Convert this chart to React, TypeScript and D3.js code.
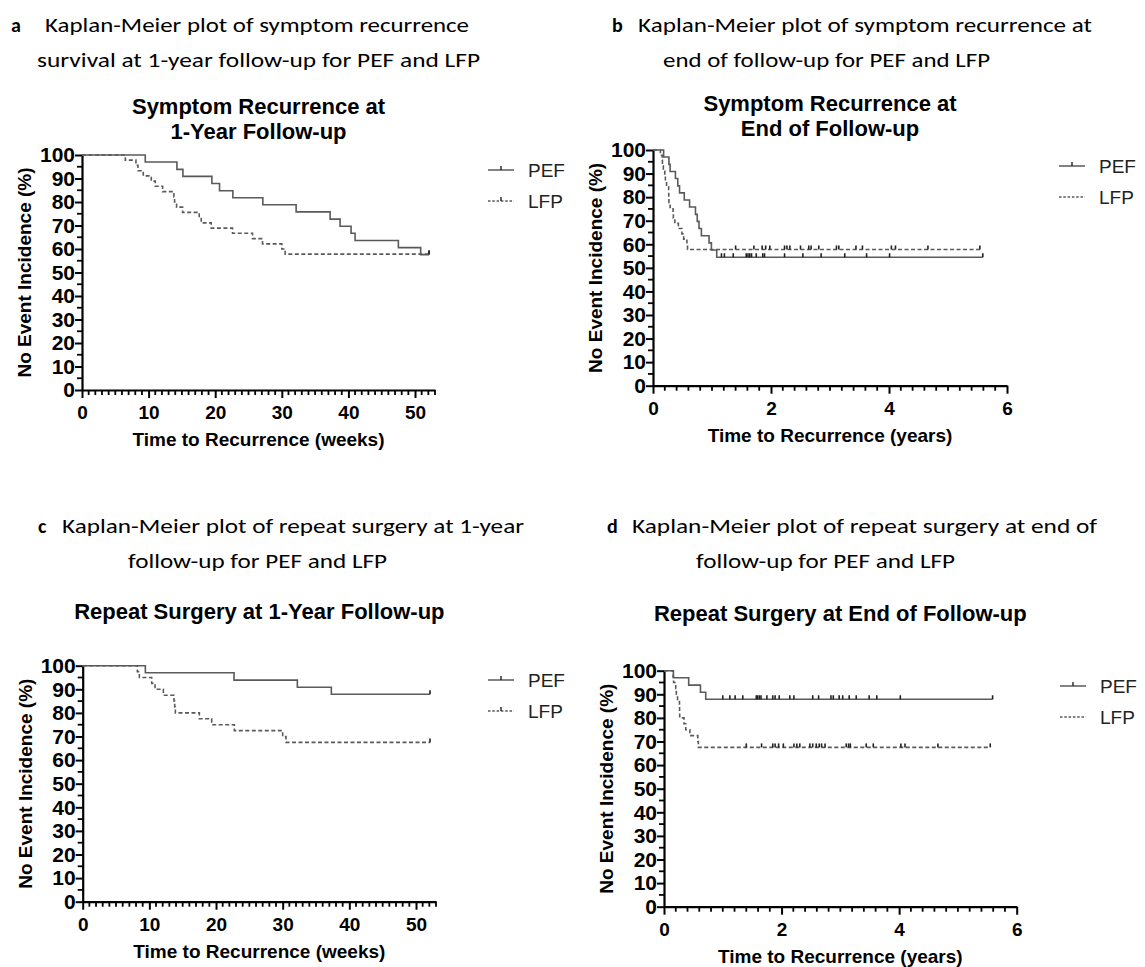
import { useEffect, useRef } from "react";
import * as d3 from "d3";

// ---- a: symptom recurrence, 1-year follow-up (weeks) ----
const symWeekPefTimes = [9.5, 14.25, 15.15, 19.5, 20.65, 22.65, 27.15, 32.15, 37.25, 38.75, 40.4, 41, 47.5, 50.85];
const symWeekPefValues = [97, 93.9, 90.9, 87.9, 84.8, 81.8, 78.8, 75.8, 72.7, 69.7, 66.7, 63.6, 60.6, 57.6];
const symWeekLfpTimes = [6.5, 8.1, 8.4, 9.2, 10.4, 11.0, 12.1, 13.8, 13.9, 14.2, 15.1, 17.6, 17.9, 19.4, 22.6, 25.6, 27.1, 30.0, 30.5];
const symWeekLfpValues = [97.8, 95.6, 93.3, 91.1, 88.9, 86.7, 84.4, 82.2, 80, 77.8, 75.6, 73.3, 71.1, 68.9, 66.7, 64.4, 62.2, 60, 57.8];
const symWeekPefCensor = [52.1];
const symWeekLfpCensor = [52.1];

// ---- b: symptom recurrence, end of follow-up (years) ----
const symYearPefTimes = [0.18, 0.27, 0.29, 0.38, 0.42, 0.45, 0.53, 0.62, 0.72, 0.75, 0.78, 0.82, 0.95, 0.99, 1.08];
const symYearPefValues = [97, 93.9, 90.9, 87.9, 84.8, 81.8, 78.8, 75.8, 72.7, 69.7, 66.7, 63.6, 60.6, 57.6, 54.5];
const symYearLfpTimes = [0.125, 0.155, 0.16, 0.175, 0.2, 0.21, 0.23, 0.265, 0.267, 0.27, 0.29, 0.34, 0.345, 0.37, 0.43, 0.49, 0.52, 0.575, 0.585];
const symYearLfpValues = [97.8, 95.6, 93.3, 91.1, 88.9, 86.7, 84.4, 82.2, 80, 77.8, 75.6, 73.3, 71.1, 68.9, 66.7, 64.4, 62.2, 60, 57.8];
const symYearPefCensor = [1.16, 1.21, 1.36, 1.58, 1.61, 1.64, 1.67, 1.75, 1.86, 1.89, 2.23, 2.54, 2.85, 3.25, 3.62, 4.01, 5.59];
const symYearLfpCensor = [1.4, 1.71, 1.85, 1.91, 1.98, 2.23, 2.27, 2.32, 2.5, 2.64, 2.68, 2.81, 3.11, 3.15, 3.44, 3.55, 4.04, 4.11, 4.66, 5.54];

// ---- c: repeat surgery, 1-year follow-up (weeks) ----
const surgWeekPefTimes = [9.4, 22.7, 32.2, 37.3];
const surgWeekPefValues = [97, 93.9, 90.9, 87.9];
const surgWeekLfpTimes = [8.2, 8.5, 10.35, 10.85, 12.1, 13.7, 13.8, 13.9, 17.5, 19.35, 22.75, 30.0, 30.5];
const surgWeekLfpValues = [97.5, 95, 92.5, 90, 87.5, 85, 82.5, 80, 77.5, 75, 72.5, 70, 67.5];
const surgWeekPefCensor = [52.1];
const surgWeekLfpCensor = [52.1];

// ---- d: repeat surgery, end of follow-up (years) ----
const surgYearPefTimes = [0.16, 0.42, 0.62, 0.71];
const surgYearPefValues = [97, 93.9, 90.9, 87.9];
const surgYearLfpTimes = [0.155, 0.163, 0.2, 0.21, 0.23, 0.263, 0.265, 0.267, 0.34, 0.37, 0.44, 0.575, 0.585];
const surgYearLfpValues = [97.5, 95, 92.5, 90, 87.5, 85, 82.5, 80, 77.5, 75, 72.5, 70, 67.5];
const surgYearPefCensor = [1.0, 1.12, 1.21, 1.34, 1.57, 1.59, 1.62, 1.65, 1.75, 1.85, 1.89, 1.96, 2.14, 2.21, 2.53, 2.63, 2.84, 2.88, 2.98, 3.04, 3.15, 3.27, 3.49, 3.62, 4.02, 5.59];
const surgYearLfpCensor = [1.4, 1.66, 1.85, 1.89, 1.95, 2.03, 2.21, 2.26, 2.31, 2.48, 2.53, 2.59, 2.64, 2.68, 2.74, 3.1, 3.14, 3.17, 3.44, 3.56, 4.03, 4.1, 4.66, 5.55];

const yTicks = [0, 10, 20, 30, 40, 50, 60, 70, 80, 90, 100];
const weekTicks = [0, 10, 20, 30, 40, 50];
const yearTicks = [0, 2, 4, 6];
const groupNames = ["PEF", "LFP"];

const GREY = "#5a5a5a";
const AXIS_FONT = "'Liberation Sans', Arial, sans-serif";
const CAPTION_FONT = "Carlito, Calibri, Lato, sans-serif";

type Panel = {
  letter: string;
  letterX: number;
  caption: string[];
  captionBox: [number, number][];
  captionY: number;
  title: string[];
  titleY: number[];
  xLabel: string;
  xMax: number;
  xTicks: number[];
  minorStep: number;
  left: number;
  right: number;
  top: number;
  bottom: number;
  legendX: number;
  legendY: number;
  lfpLegendTick: boolean;
  pef: [number[], number[], number[]];
  lfp: [number[], number[], number[]];
};

const panels: Panel[] = [
  {
    letter: "a",
    letterX: 11,
    caption: ["Kaplan-Meier plot of symptom recurrence", "survival at 1-year follow-up for PEF and LFP"],
    captionBox: [[45, 424], [37, 443]],
    captionY: 32,
    title: ["Symptom Recurrence at", "1-Year Follow-up"],
    titleY: [114, 139],
    xLabel: "Time to Recurrence (weeks)",
    xMax: 53,
    xTicks: weekTicks,
    minorStep: 1,
    left: 82,
    right: 435,
    top: 155,
    bottom: 390,
    legendX: 488,
    legendY: 170,
    lfpLegendTick: true,
    pef: [symWeekPefTimes, symWeekPefValues, symWeekPefCensor],
    lfp: [symWeekLfpTimes, symWeekLfpValues, symWeekLfpCensor],
  },
  {
    letter: "b",
    letterX: 612,
    caption: ["Kaplan-Meier plot of symptom recurrence at", "end of follow-up for PEF and LFP"],
    captionBox: [[638, 454], [663, 327]],
    captionY: 32,
    title: ["Symptom Recurrence at", "End of Follow-up"],
    titleY: [111, 136],
    xLabel: "Time to Recurrence (years)",
    xMax: 6,
    xTicks: yearTicks,
    minorStep: 0.2,
    left: 653,
    right: 1007,
    top: 150,
    bottom: 385.7,
    legendX: 1059,
    legendY: 166,
    lfpLegendTick: false,
    pef: [symYearPefTimes, symYearPefValues, symYearPefCensor],
    lfp: [symYearLfpTimes, symYearLfpValues, symYearLfpCensor],
  },
  {
    letter: "c",
    letterX: 38,
    caption: ["Kaplan-Meier plot of repeat surgery at 1-year", "follow-up for PEF and LFP"],
    captionBox: [[62, 462], [128, 259]],
    captionY: 533,
    title: ["Repeat Surgery at 1-Year Follow-up"],
    titleY: [619],
    xLabel: "Time to Recurrence (weeks)",
    xMax: 53,
    xTicks: weekTicks,
    minorStep: 1,
    left: 82.7,
    right: 436,
    top: 665.7,
    bottom: 901.7,
    legendX: 488,
    legendY: 680,
    lfpLegendTick: true,
    pef: [surgWeekPefTimes, surgWeekPefValues, surgWeekPefCensor],
    lfp: [surgWeekLfpTimes, surgWeekLfpValues, surgWeekLfpCensor],
  },
  {
    letter: "d",
    letterX: 607,
    caption: ["Kaplan-Meier plot of repeat surgery at end of", "follow-up for PEF and LFP"],
    captionBox: [[632, 465], [696, 259]],
    captionY: 533,
    title: ["Repeat Surgery at End of Follow-up"],
    titleY: [621],
    xLabel: "Time to Recurrence (years)",
    xMax: 6,
    xTicks: yearTicks,
    minorStep: 0.2,
    left: 664,
    right: 1016.7,
    top: 670.7,
    bottom: 906.7,
    legendX: 1060,
    legendY: 686,
    lfpLegendTick: false,
    pef: [surgYearPefTimes, surgYearPefValues, surgYearPefCensor],
    lfp: [surgYearLfpTimes, surgYearLfpValues, surgYearLfpCensor],
  },
];

export default function App() {
  const ref = useRef<SVGSVGElement>(null);

  useEffect(() => {
    const svg = d3.select(ref.current);
    svg.selectAll("*").remove();

    panels.forEach((p) => {
      const g = svg.append("g");
      const x = d3.scaleLinear().domain([0, p.xMax]).range([p.left, p.right]);
      const y = d3.scaleLinear().domain([0, 100]).range([p.bottom, p.top]);

      // caption (letter in bold, lines stretched to the measured width)
      g.append("text")
        .attr("x", p.letterX)
        .attr("y", p.captionY)
        .attr("font-family", CAPTION_FONT)
        .attr("font-weight", "bold")
        .attr("font-size", 20)
        .text(p.letter);
      p.caption.forEach((line, i) => {
        g.append("text")
          .attr("x", p.captionBox[i][0])
          .attr("y", p.captionY + i * 35)
          .attr("textLength", p.captionBox[i][1])
          .attr("lengthAdjust", "spacingAndGlyphs")
          .attr("font-family", CAPTION_FONT)
          .attr("font-size", 20)
          .attr("fill", "#000")
          .text(line);
      });

      // chart title
      p.title.forEach((line, i) => {
        g.append("text")
          .attr("x", (p.left + p.right) / 2)
          .attr("y", p.titleY[i])
          .attr("text-anchor", "middle")
          .attr("font-family", AXIS_FONT)
          .attr("font-weight", "bold")
          .attr("font-size", 22)
          .text(line);
      });

      // minor ticks
      const xMinor = d3.range(0, p.xMax + 1e-6, p.minorStep).filter((v) => !p.xTicks.some((t) => Math.abs(t - v) < 1e-6));
      const yMinor = d3.range(5, 100, 10);

      // x axis
      const xAxis = g
        .append("g")
        .attr("transform", `translate(0,${p.bottom})`)
        .call(d3.axisBottom(x).tickValues(p.xTicks).tickFormat(d3.format("d")).tickSize(8).tickPadding(8).tickSizeOuter(0));
      xAxis.append("g").selectAll("line").data(xMinor).enter().append("line")
        .attr("x1", (d) => x(d)).attr("x2", (d) => x(d)).attr("y1", 0).attr("y2", 5)
        .attr("stroke", "#000").attr("stroke-width", 1.8);
      xAxis.selectAll("text").attr("font-size", 19);

      // y axis
      const yAxis = g
        .append("g")
        .attr("transform", `translate(${p.left},0)`)
        .call(d3.axisLeft(y).tickValues(yTicks).tickSize(7).tickPadding(0).tickSizeOuter(0));
      yAxis.append("g").selectAll("line").data(yMinor).enter().append("line")
        .attr("x1", 0).attr("x2", -5).attr("y1", (d) => y(d)).attr("y2", (d) => y(d))
        .attr("stroke", "#000").attr("stroke-width", 1.8);
      yAxis.selectAll("text").attr("font-size", 21);

      [xAxis, yAxis].forEach((ax) => {
        ax.select(".domain").attr("stroke", "#000").attr("stroke-width", 2.2);
        ax.selectAll(".tick line").attr("stroke", "#000").attr("stroke-width", 2);
        ax.selectAll("text")
          .attr("font-family", AXIS_FONT)
          .attr("font-weight", "bold")
          .attr("fill", "#000");
      });

      // axis titles
      g.append("text")
        .attr("x", (p.left + p.right) / 2)
        .attr("y", p.bottom + 56)
        .attr("text-anchor", "middle")
        .attr("font-family", AXIS_FONT)
        .attr("font-weight", "bold")
        .attr("font-size", 19)
        .text(p.xLabel);
      g.append("text")
        .attr("transform", `translate(${p.left - 51},${(p.top + p.bottom) / 2}) rotate(-90)`)
        .attr("text-anchor", "middle")
        .attr("font-family", AXIS_FONT)
        .attr("font-weight", "bold")
        .attr("font-size", 19)
        .text("No Event Incidence (%)");

      // survival curves
      const line = d3
        .line<[number, number]>()
        .x((d) => x(d[0]))
        .y((d) => y(d[1]))
        .curve(d3.curveStepAfter);

      [p.pef, p.lfp].forEach(([times, values, censor], k) => {
        const endT = d3.max(censor) as number;
        const pts: [number, number][] = [[0, 100], ...times.map((t, i) => [t, values[i]] as [number, number])];
        pts.push([endT, values[values.length - 1]]);
        g.append("path")
          .attr("d", line(pts))
          .attr("fill", "none")
          .attr("stroke", GREY)
          .attr("stroke-width", 1.6)
          .attr("stroke-dasharray", k === 1 ? "4,2.5" : null);
        const last = values[values.length - 1];
        g.append("g")
          .selectAll("line")
          .data(censor)
          .enter()
          .append("line")
          .attr("x1", (d) => x(d))
          .attr("x2", (d) => x(d))
          .attr("y1", y(last))
          .attr("y2", y(last) - 4)
          .attr("stroke", "#222")
          .attr("stroke-width", 1.6);
      });

      // legend
      groupNames.forEach((name, i) => {
        const ly = p.legendY + i * 31;
        g.append("line")
          .attr("x1", p.legendX).attr("x2", p.legendX + 26)
          .attr("y1", ly).attr("y2", ly)
          .attr("stroke", GREY).attr("stroke-width", 1.5)
          .attr("stroke-dasharray", i === 1 ? "2.5,1.8" : null);
        if (i === 0 || p.lfpLegendTick) {
          g.append("line")
            .attr("x1", p.legendX + 13).attr("x2", p.legendX + 13)
            .attr("y1", ly).attr("y2", ly - 4)
            .attr("stroke", "#222").attr("stroke-width", 1.4);
        }
        g.append("text")
          .attr("x", p.legendX + 40)
          .attr("y", ly)
          .attr("dy", "0.36em")
          .attr("font-family", AXIS_FONT)
          .attr("font-size", 19)
          .attr("fill", "#222")
          .text(name);
      });
    });
  }, []);

  return <svg ref={ref} width={1145} height={967} style={{ position: "absolute", left: 0, top: 0 }} />;
}
